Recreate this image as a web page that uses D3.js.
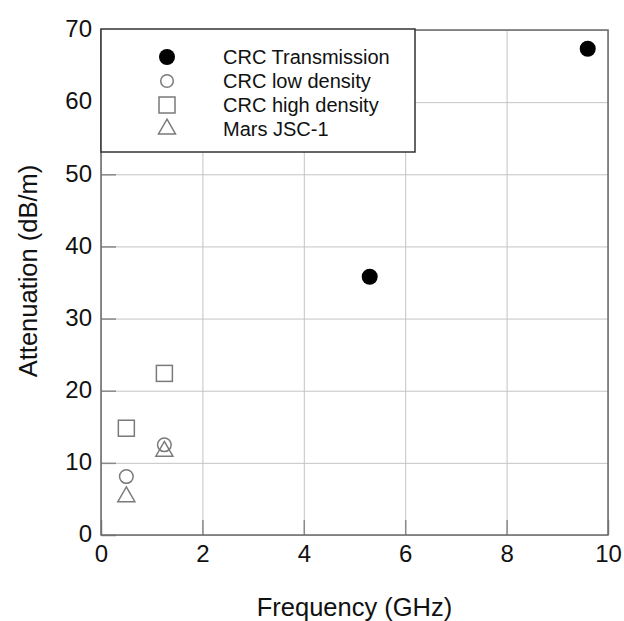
<!DOCTYPE html>
<html>
<head>
<meta charset="utf-8">
<script src="https://cdn.jsdelivr.net/npm/d3@7"></script>
<style>
  html, body { margin: 0; padding: 0; background: #fff; }
  svg { display: block; font-family: "Liberation Sans", Arial, sans-serif; }
</style>
</head>
<body>
<div id="chart"></div>
<script>
  // Series values (frequency GHz, attenuation dB/m)
  const transmissionFreq = [5.3, 9.6];
  const transmissionAtt = [35.8, 67.4];
  const lowDensityFreq = [0.5, 1.25];
  const lowDensityAtt = [8.1, 12.5];
  const highDensityFreq = [0.5, 1.25];
  const highDensityAtt = [14.8, 22.4];
  const marsFreq = [0.5, 1.25];
  const marsAtt = [5.3, 11.6];

  const xTicks = [0, 2, 4, 6, 8, 10];
  const yTicks = [0, 10, 20, 30, 40, 50, 60, 70];
  const seriesNames = ['CRC Transmission', 'CRC low density', 'CRC high density', 'Mars JSC-1'];
  const seriesShapes = ['filled', 'circle', 'square', 'triangle'];

  const width = 624, height = 621;
  const margin = { top: 30, right: 16, bottom: 86, left: 101 };

  const svg = d3.select('#chart').append('svg')
    .attr('width', width)
    .attr('height', height);

  const x = d3.scaleLinear().domain([0, 10]).range([margin.left, width - margin.right]);
  const y = d3.scaleLinear().domain([0, 70]).range([height - margin.bottom, margin.top]);

  const gridColor = '#c4c4c4';
  const tickColor = '#8a8a8a';
  const markGray = '#7a7a7a';
  const textColor = '#111';

  // grid lines
  svg.append('g')
    .attr('transform', 'translate(0,' + y(0) + ')')
    .call(d3.axisBottom(x).tickValues(xTicks).tickSize(-(y(0) - y(70))).tickFormat(''))
    .call(g => g.select('.domain').remove())
    .selectAll('line').attr('stroke', gridColor);

  svg.append('g')
    .attr('transform', 'translate(' + x(0) + ',0)')
    .call(d3.axisLeft(y).tickValues(yTicks).tickSize(-(x(10) - x(0))).tickFormat(''))
    .call(g => g.select('.domain').remove())
    .selectAll('line').attr('stroke', gridColor);

  // inward ticks + labels
  const xAxis = svg.append('g')
    .attr('transform', 'translate(0,' + y(0) + ')')
    .call(d3.axisBottom(x).tickValues(xTicks).tickSizeInner(-15).tickSizeOuter(0).tickPadding(10));
  xAxis.select('.domain').remove();
  xAxis.selectAll('line').attr('stroke', tickColor).attr('stroke-width', 1.5);
  xAxis.selectAll('text')
    .attr('font-size', 24)
    .attr('fill', textColor)
    .attr('font-family', '"Liberation Sans", Arial, sans-serif')
    .attr('y', 27)
    .attr('dy', '0');

  const yAxis = svg.append('g')
    .attr('transform', 'translate(' + x(0) + ',0)')
    .call(d3.axisLeft(y).tickValues(yTicks).tickSizeInner(-15).tickSizeOuter(0).tickPadding(10));
  yAxis.select('.domain').remove();
  yAxis.selectAll('line').attr('stroke', tickColor).attr('stroke-width', 1.5);
  yAxis.selectAll('text')
    .attr('font-size', 24)
    .attr('fill', textColor)
    .attr('font-family', '"Liberation Sans", Arial, sans-serif')
    .attr('x', -9)
    .attr('dy', '0.28em');

  // plot frame
  svg.append('rect')
    .attr('x', x(0))
    .attr('y', y(70))
    .attr('width', x(10) - x(0))
    .attr('height', y(0) - y(70))
    .attr('fill', 'none')
    .attr('stroke', '#6a6a6a')
    .attr('stroke-width', 1.5);

  // marker drawing helper
  function drawMarker(g, shape, cx, cy, size) {
    if (shape === 'filled') {
      g.append('circle').attr('cx', cx).attr('cy', cy).attr('r', size.filled).attr('fill', '#000');
    } else if (shape === 'circle') {
      g.append('circle').attr('cx', cx).attr('cy', cy).attr('r', size.circle)
        .attr('fill', 'none').attr('stroke', markGray).attr('stroke-width', 1.5);
    } else if (shape === 'square') {
      const s = size.square;
      g.append('rect').attr('x', cx - s / 2).attr('y', cy - s / 2).attr('width', s).attr('height', s)
        .attr('fill', 'none').attr('stroke', markGray).attr('stroke-width', 1.5);
    } else {
      const s = size.triangle;
      const h = s * Math.sqrt(3) / 2;
      g.append('path')
        .attr('d', 'M' + cx + ',' + (cy - h * 2 / 3) + 'L' + (cx + s / 2) + ',' + (cy + h / 3) +
          'L' + (cx - s / 2) + ',' + (cy + h / 3) + 'Z')
        .attr('fill', 'none').attr('stroke', markGray).attr('stroke-width', 1.5);
    }
  }

  const plotSize = { filled: 8, circle: 6.8, square: 16, triangle: 17 };
  const series = [
    { shape: 'filled', fx: transmissionFreq, fy: transmissionAtt },
    { shape: 'square', fx: highDensityFreq, fy: highDensityAtt },
    { shape: 'circle', fx: lowDensityFreq, fy: lowDensityAtt },
    { shape: 'triangle', fx: marsFreq, fy: marsAtt }
  ];
  const points = svg.append('g').attr('class', 'points');
  series.forEach(function(s) {
    s.fx.forEach(function(f, i) {
      drawMarker(points, s.shape, x(f), y(s.fy[i]), plotSize);
    });
  });

  // legend
  const legend = svg.append('g').attr('class', 'legend');
  legend.append('rect')
    .attr('x', x(0))
    .attr('y', y(70) - 1)
    .attr('width', 314)
    .attr('height', 123)
    .attr('fill', '#fff')
    .attr('stroke', '#333')
    .attr('stroke-width', 1.5);
  const legendSize = { filled: 8, circle: 6.3, square: 16, triangle: 17 };
  seriesNames.forEach(function(name, i) {
    const cy = 57 + i * 24;
    drawMarker(legend, seriesShapes[i], 167, cy, legendSize);
    legend.append('text')
      .attr('x', 223)
      .attr('y', cy)
      .attr('dy', '0.35em')
      .attr('font-size', 20)
      .attr('fill', textColor)
      .text(name);
  });

  // axis titles
  svg.append('text')
    .attr('x', (x(0) + x(10)) / 2)
    .attr('y', 616)
    .attr('text-anchor', 'middle')
    .attr('font-size', 25.5)
    .attr('fill', textColor)
    .text('Frequency (GHz)');

  svg.append('text')
    .attr('transform', 'translate(37,' + 271 + ') rotate(-90)')
    .attr('text-anchor', 'middle')
    .attr('font-size', 25.5)
    .attr('fill', textColor)
    .text('Attenuation (dB/m)');
</script>
</body>
</html>
